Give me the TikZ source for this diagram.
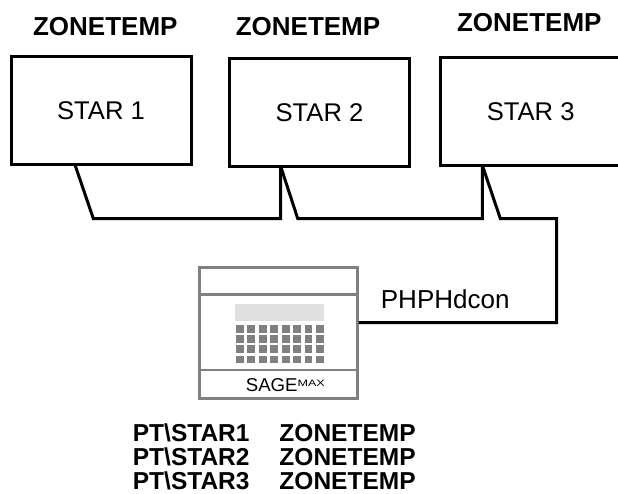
\documentclass[tikz,border=0pt]{standalone}
\usepackage{fontspec}
\setmainfont{Liberation Sans}

\tikzset{
  starbox/.style={draw, line width=3pt, outer sep=0pt, inner sep=0pt,
    minimum width=180pt, minimum height=108pt, font=\fontsize{25.6}{30}\selectfont},
  zonelbl/.style={anchor=base, inner sep=0pt, font=\bfseries\fontsize{26}{30}\selectfont},
  ptline/.style={anchor=base west, inner sep=0pt, font=\bfseries\fontsize{24.5}{26}\selectfont},
  wire/.style={line width=3pt},
  sagepart/.style={draw=black!50, line width=2.6pt},
  sagekey/.style={fill=black!50},
}

\begin{document}
\begin{tikzpicture}[x=1pt, y=-1pt]
\useasboundingbox (0,0) rectangle (618,493);

% zone controllers
\node [starbox] (star1) at (101,110.8) {STAR 1};
\node [starbox] (star2) at (319.5,112.4) {STAR 2};
\node [starbox] (star3) at (530.7,111.2) {STAR 3};

\node [zonelbl] (zone1) at (105.3,35.5) {ZONETEMP};
\node [zonelbl] (zone2) at (308,35.3) {ZONETEMP};
\node [zonelbl] (zone3) at (529.3,31.7) {ZONETEMP};

% SAGE panel
\node [sagepart, inner sep=0pt, minimum width=158pt, minimum height=130.8pt] (sage) at (278.3,332.9) {};
\draw [sagepart] (199.3,294.3) -- (357.3,294.3);
\draw [sagepart] (199.3,370) -- (357.3,370);
\fill [black!12] (235,304) rectangle (324,320.7);
\foreach \c in {0,...,7}
  \foreach \r in {0,...,3}
    \fill [sagekey] (236+11.43*\c, 325+10.2*\r) rectangle ++(7.8,7.7);
\node [anchor=base west, inner sep=0pt, font=\fontsize{18.6}{20}\selectfont] (sagelbl) at (245.7,391)
  {SAGE\raisebox{4.3pt}{\scalebox{1.35}[1]{\fontsize{9.3}{10}\selectfont MAX}}};

% comm bus
\coordinate (tap1) at ([xshift=-26pt]star1.south);
\coordinate (tap2) at ([xshift=-38.8pt]star2.south);
\coordinate (tap3) at ([xshift=-48.4pt]star3.south);
\coordinate (bend) at (556.5,322.7);

\draw [wire] (tap1) -- ++(18.3,53.7) -| (tap2);
\draw [wire] (tap2) -- ++(17,52.1) -| (tap3);
\draw [wire] (tap3) -- ++(18,53.3) -| (bend) -- (bend -| sage.east);

\node [anchor=base west, inner sep=0pt, font=\fontsize{26}{30}\selectfont] (dcon) at (380.7,308.3) {PHPHdcon};

% point names
\foreach \n in {1,2,3}
  \node [ptline] (pt\n) at (132.7,418+23.7*\n) {\makebox[146.6pt][l]{PT\textbackslash STAR\n}ZONETEMP};

\end{tikzpicture}
\end{document}
